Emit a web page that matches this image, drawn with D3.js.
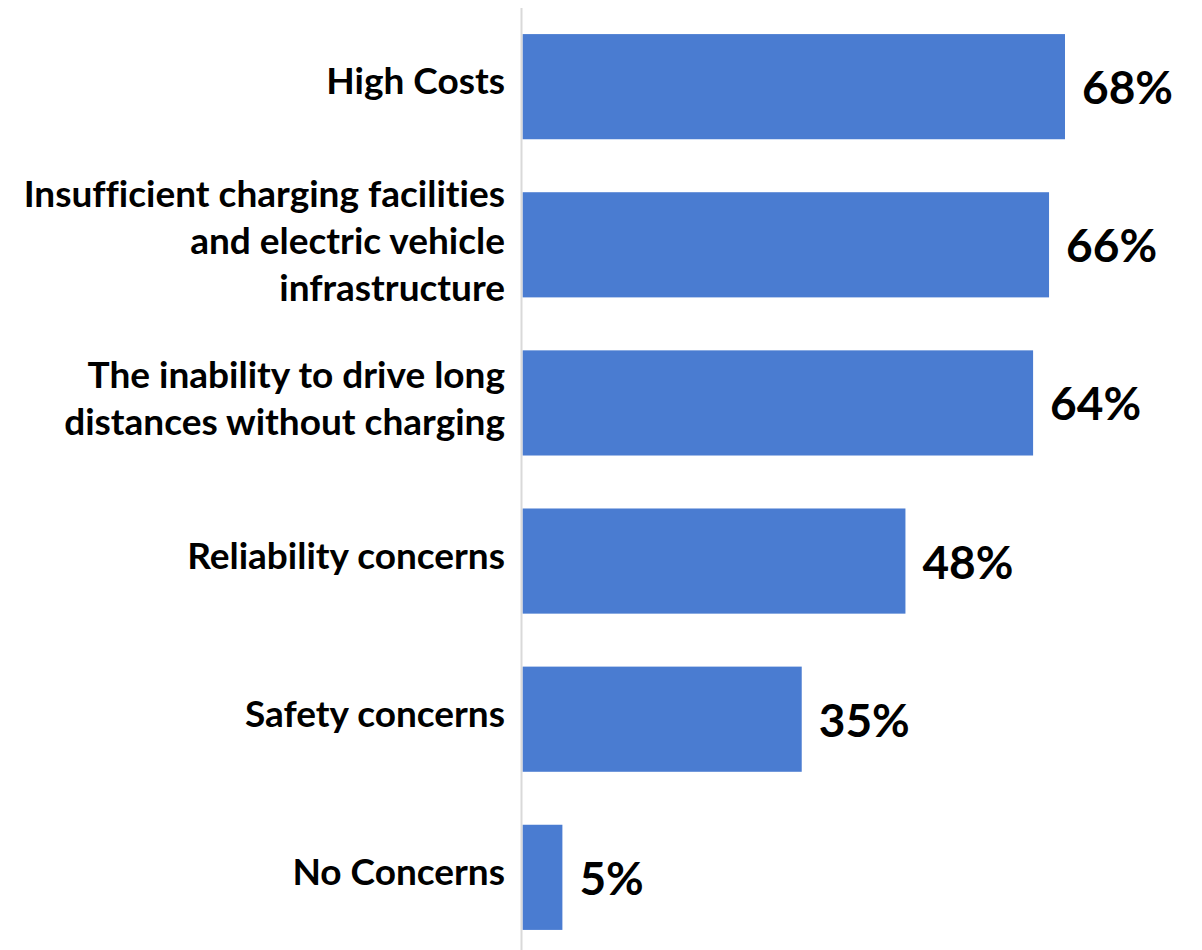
<!DOCTYPE html>
<html>
<head>
<meta charset="utf-8">
<script src="https://cdn.jsdelivr.net/npm/d3@7"></script>
<style>
  html, body { margin: 0; padding: 0; background: #ffffff; }
  svg { display: block; }
  text { font-family: Lato, "Open Sans", sans-serif; font-weight: 700; fill: #000000; font-variant-ligatures: none; font-feature-settings: "liga" 0; }
</style>
</head>
<body>
<svg id="chart" width="1202" height="950"></svg>
<script>
const categories = [
  "High Costs",
  "Insufficient charging facilities and electric vehicle infrastructure",
  "The inability to drive long distances without charging",
  "Reliability concerns",
  "Safety concerns",
  "No Concerns"
];
const categoryLines = [
  ["High Costs"],
  ["Insufficient charging facilities", "and electric vehicle", "infrastructure"],
  ["The inability to drive long", "distances without charging"],
  ["Reliability concerns"],
  ["Safety concerns"],
  ["No Concerns"]
];
const values = [68, 66, 64, 48, 35, 5];
const valueLabels = ["68%", "66%", "64%", "48%", "35%", "5%"];

const svg = d3.select("#chart");
const y = d3.scaleBand().domain(categories).range([8, 956]).paddingInner(0.335).paddingOuter(0.165);
const x = d3.scaleLinear().domain([0, 68]).range([522.5, 1065]);

const barColor = "#4a7cd1";

svg.selectAll("rect.bar").data(values).join("rect")
  .attr("class", "bar")
  .attr("x", x(0))
  .attr("y", (d, i) => y(categories[i]))
  .attr("width", d => x(d) - x(0))
  .attr("height", y.bandwidth())
  .attr("fill", barColor);

// axis line
svg.append("line")
  .attr("x1", 521.5).attr("x2", 521.5)
  .attr("y1", 8).attr("y2", 950)
  .attr("stroke", "#d9d9d9").attr("stroke-width", 2);

// value labels
svg.selectAll("text.val").data(values).join("text")
  .attr("class", "val")
  .attr("x", d => x(d) + 17)
  .attr("y", (d, i) => y(categories[i]) + y.bandwidth() / 2 + 17.5)
  .attr("font-size", 46)
  .text((d, i) => valueLabels[i]);

// category labels
const lineH = 47;
const g = svg.selectAll("text.cat").data(categories).join("text")
  .attr("class", "cat")
  .attr("text-anchor", "end")
  .attr("font-size", 37);
g.each(function(c, i) {
  const lines = categoryLines[i];
  const cy = y(c) + y.bandwidth() / 2;
  const first = cy - (lines.length - 1) / 2 * lineH + (lines.length > 1 ? 9 : 7.5);
  d3.select(this).selectAll("tspan").data(lines).join("tspan")
    .attr("x", 505)
    .attr("y", (l, j) => first + j * lineH)
    .text(l => l);
});
</script>
</body>
</html>
